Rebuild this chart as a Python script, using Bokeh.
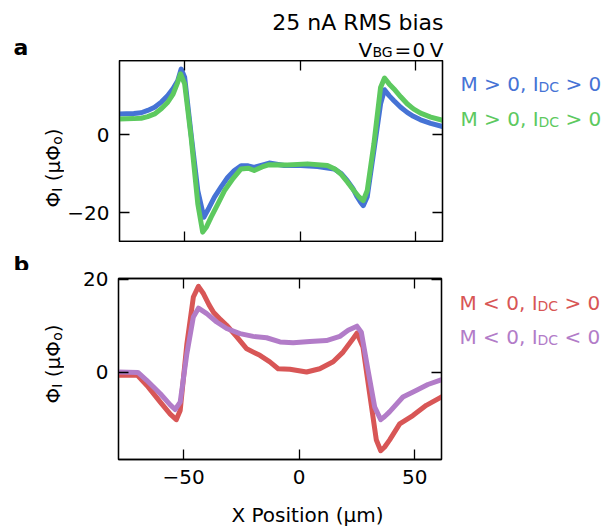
import math
from bokeh.plotting import figure
from bokeh.models import Range1d, LinearAxis, FixedTicker, Label, CustomJSTickFormatter
from bokeh.layouts import column, row
from bokeh.embed import file_html
from bokeh.resources import INLINE

# ---------------- data ----------------
x_blue = [-78.5, -72.0, -68.8, -66.0, -63.0, -60.0, -57.3, -55.0, -53.0, -51.5, -50.0, -47.2,
          -44.3, -41.7, -39.5, -37.1, -34.0, -31.4, -28.5, -25.6, -22.5, -19.9, -16.5, -13.4,
          -6.9, 0.3, 7.5, 14.7, 17.8, 20.4, 22.8, 24.7, 26.2, 27.3, 29.0, 31.9, 34.8, 36.5,
          38.5, 40.6, 43.5, 46.3, 49.0, 52.1, 56.5, 62.0]
y_blue = [5.3, 5.4, 5.6, 6.2, 7.0, 8.4, 10.0, 11.8, 13.8, 16.8, 14.7, 0.0,
          -14.4, -21.2, -18.8, -16.0, -13.2, -11.0, -9.2, -8.0, -8.0, -8.4, -7.8, -7.3,
          -7.9, -7.9, -8.2, -8.8, -10.0, -11.8, -13.8, -16.0, -17.4, -18.2, -16.0, -4.1, 7.9, 11.5,
          10.0, 8.7, 7.0, 5.7, 4.7, 3.8, 2.9, 2.0]

x_green = [-78.5, -72.0, -68.8, -66.0, -63.0, -60.0, -57.3, -55.0, -53.0, -51.8, -50.0, -47.2,
           -44.3, -42.2, -40.5, -38.6, -35.5, -32.8, -29.0, -25.6, -22.5, -19.9, -16.5, -13.4,
           -5.5, 3.2, 11.8, 15.0, 17.6, 20.5, 23.3, 25.5, 27.3, 29.0, 31.9, 34.8, 36.5,
           38.5, 40.6, 43.5, 46.3, 49.0, 52.1, 56.5, 62.0]
y_green = [4.0, 4.1, 4.2, 4.6, 5.3, 6.7, 8.3, 10.4, 13.4, 15.6, 13.0, -0.7,
           -17.8, -25.0, -23.6, -21.2, -17.6, -14.4, -11.2, -8.8, -8.6, -9.2, -8.3, -7.7,
           -7.8, -7.5, -7.9, -8.8, -10.1, -12.2, -14.4, -16.0, -16.9, -14.4, -2.4, 12.1, 14.5,
           13.0, 11.7, 9.7, 7.9, 6.6, 5.5, 4.5, 3.6]

x_red = [-78.5, -70.0, -65.9, -60.1, -55.8, -53.2, -51.5, -48.6, -45.8, -43.6, -41.4, -39.0,
         -37.1, -34.0, -31.4, -27.0, -22.7, -17.0, -12.7, -9.1, -4.0, 3.2, 8.9, 14.7, 19.0,
         23.3, 25.0, 27.6, 30.5, 33.4, 35.3, 37.0, 39.1, 43.5, 49.2, 55.0, 62.0]
y_red = [-0.7, -0.7, -2.9, -6.5, -9.1, -10.3, -8.3, 6.1, 16.2, 18.5, 16.9, 14.5,
         12.9, 11.3, 10.1, 7.6, 5.0, 3.6, 2.2, 0.7, 0.6, 0.0, 0.7, 2.2, 4.3,
         7.2, 8.4, 5.4, -4.7, -14.7, -17.0, -16.2, -14.7, -11.2, -9.4, -7.2, -5.3]

x_purple = [-78.5, -69.8, -66.0, -60.1, -55.8, -53.7, -51.5, -48.6, -45.8, -43.6, -40.0, -35.7,
            -31.4, -25.6, -19.9, -14.1, -8.3, -2.6, 4.6, 11.8, 17.6, 21.2, 25.0, 26.9,
            29.8, 32.7, 35.3, 37.0, 39.1, 44.9, 50.6, 55.7, 62.0]
y_purple = [0.0, -0.1, -1.8, -4.7, -7.1, -8.1, -6.5, 4.0, 11.9, 13.8, 12.6, 10.8,
            9.4, 8.3, 7.7, 7.4, 6.5, 6.3, 6.6, 6.8, 7.7, 9.0, 9.9, 8.6,
            0.4, -7.6, -10.3, -9.6, -8.6, -5.4, -4.0, -2.7, -1.6]

x_ticks = [-50, 0, 50]
y_ticks_a = [-20, 0]
y_ticks_b = [0, 20]

legend_a = [("M > 0, I", "DC", "> 0"), ("M > 0, I", "DC", "> 0")]
legend_b = [("M < 0, I", "DC", "> 0"), ("M < 0, I", "DC", "< 0")]

# ---------------- styling / layout ----------------
C_BLUE, C_GREEN, C_RED, C_PURPLE = "#4673D5", "#5DC95F", "#D85656", "#B27CC8"
FONT = "DejaVu Sans"
FS = 20
X_START, X_END = -78.2, 61.6
FRAME_W, FRAME_H = 323, 181
YL_W = 64            # width of the y-label strip
BL, BR = 54, 10      # main figure borders
LEG_X0 = YL_W + BL + FRAME_W + BR
LEG_W = 602 - LEG_X0

TOP_H = 60           # title strip (page y 0..60)
A_BOT = 1            # panel a: frame 60..241
MID_H = 28           # strip holding "b" (242..270)
B_TOP, B_BOT = 8, 32 # panel b: frame 278..459
ROW_A_Y = TOP_H
ROW_A_H = FRAME_H + A_BOT
MID_Y = ROW_A_Y + ROW_A_H
ROW_B_Y = MID_Y + MID_H + B_TOP          # page y of panel b frame top
BOT_Y = ROW_B_Y + FRAME_H + B_BOT
BOT_H = 526 - BOT_Y

# approximate DejaVu Sans advance widths (em)
W = {" ": 0.318, "(": 0.390, ")": 0.390, ",": 0.318, "<": 0.838, ">": 0.838, "=": 0.838,
     "A": 0.684, "B": 0.686, "C": 0.698, "D": 0.770, "G": 0.775, "I": 0.295, "M": 0.863,
     "V": 0.684, "X": 0.686, "o": 0.612, "\u03a6": 0.790, "\u03bc": 0.640}
SP = W[" "]


def tw(s, size):
    return sum(W.get(c, 0.636) for c in s) * size


minus_fmt = CustomJSTickFormatter(code="return tick < 0 ? '\u2212' + Math.abs(tick) : String(tick);")
blank_fmt = CustomJSTickFormatter(code="return '';")


def text_fig(x0, y0, w, h, bottom=0, topb=0):
    """A bare figure whose frame covers page region (x0, y0, w, h); data units = page pixels.
    'topb'/'bottom' add empty borders matching the plot beside it."""
    p = figure(width=w, height=h + bottom + topb, x_range=Range1d(x0, x0 + w),
               y_range=Range1d(y0 + h, y0),
               output_backend="svg", toolbar_location=None,
               x_axis_location=None, y_axis_location=None,
               min_border=0, min_border_left=0, min_border_right=0,
               min_border_top=topb, min_border_bottom=bottom)
    p.grid.visible = False
    p.outline_line_color = None
    p.background_fill_color = "white"
    p.border_fill_color = "white"
    return p


def put(p, px, py, text, size=FS, color="black", align="left", bold=False, angle=0.0):
    p.add_layout(Label(x=px, y=py, text=text, text_font=FONT,
                       text_font_size=f"{size}px", text_color=color,
                       text_align=align, text_baseline="alphabetic",
                       text_font_style="bold" if bold else "normal",
                       angle=angle))


def add_axis(p, loc, ticks, labels):
    ax = LinearAxis(ticker=FixedTicker(ticks=ticks, minor_ticks=[]),
                    major_tick_in=10, major_tick_out=0, minor_tick_in=0, minor_tick_out=0,
                    axis_line_color="black", axis_line_width=1.3,
                    major_tick_line_color="black", major_tick_line_width=1.3)
    if labels:
        ax.formatter = minus_fmt
        ax.major_label_text_font = FONT
        ax.major_label_text_font_size = f"{FS}px"
        ax.major_label_text_color = "black"
        ax.major_label_standoff = 10
    else:
        ax.formatter = blank_fmt
        ax.major_label_text_font_size = "1px"
        ax.major_label_standoff = 0
    p.add_layout(ax, loc)


def make_fig(y_start, y_end, top, bottom, yticks, xlabels):
    p = figure(frame_width=FRAME_W, frame_height=FRAME_H,
               x_range=Range1d(X_START, X_END), y_range=Range1d(y_start, y_end),
               output_backend="svg", toolbar_location=None,
               x_axis_location=None, y_axis_location=None,
               min_border_left=BL, min_border_right=BR,
               min_border_top=top, min_border_bottom=bottom)
    p.grid.visible = False
    p.outline_line_color = "black"
    p.outline_line_width = 1.3
    p.background_fill_color = "white"
    p.border_fill_color = "white"
    add_axis(p, "left", yticks, True)
    add_axis(p, "right", yticks, False)
    add_axis(p, "above", x_ticks, False)
    add_axis(p, "below", x_ticks, xlabels)
    return p


def legend_row(p, px, py, parts, color, size=20, sub=14):
    a, b, c = parts
    put(p, px, py, a, size, color)
    x2 = px + tw(a, size)
    put(p, x2, py + 3, b, sub, color)
    put(p, x2 + tw(b, sub) + SP * size, py, c, size, color)


def ylabel(p, px, py_start):
    parts = [("\u03a6", False), ("I", True), (" ", None), ("(\u03bc\u03a6", False),
             ("o", True), (")", False)]
    y = py_start
    for t, is_sub in parts:
        size = 14 if is_sub else FS
        if is_sub is not None:
            put(p, px + (4 if is_sub else 0), round(y, 1), t, size, "black", angle=math.pi / 2)
        y -= tw(t, size)


# ---------------- title strip ----------------
top = text_fig(0, 0, 602, TOP_H)
put(top, 13, 47, "a", 22, bold=True)
put(top, 443, 22, "25 nA RMS bias", 22, align="right")
# V_BG = 0 V, pieces placed as in the reference
put(top, 358, 49, "V", 20)
put(top, 372, 51, "BG", 14)
put(top, 394, 49, "=", 20)
put(top, 412, 49, "0", 20)
put(top, 443, 49, "V", 20, align="right")

# ---------------- panel a ----------------
p1 = make_fig(-27.4, 19.0, 0, A_BOT, y_ticks_a, False)
p1.line(x_blue, y_blue, line_color=C_BLUE, line_width=5, line_join="round")
p1.line(x_green, y_green, line_color=C_GREEN, line_width=5, line_join="round")
yl_a = text_fig(0, ROW_A_Y, YL_W, FRAME_H, A_BOT)
ylabel(yl_a, 52, 207)
leg_a = text_fig(LEG_X0, ROW_A_Y, LEG_W, FRAME_H, A_BOT)
legend_row(leg_a, 459, 83, legend_a[0], C_BLUE)
legend_row(leg_a, 459, 118, legend_a[1], C_GREEN)

# ---------------- "b" strip ----------------
mid = text_fig(0, MID_Y, 602, MID_H)
put(mid, 13, 264, "b", 22, bold=True)

# ---------------- panel b ----------------
p2 = make_fig(-18.9, 20.2, B_TOP, B_BOT, y_ticks_b, True)
p2.line(x_red, y_red, line_color=C_RED, line_width=5, line_join="round")
p2.line(x_purple, y_purple, line_color=C_PURPLE, line_width=5, line_join="round")
yl_b = text_fig(0, ROW_B_Y, YL_W, FRAME_H, B_BOT, B_TOP)
ylabel(yl_b, 52, 403)
leg_b = text_fig(LEG_X0, ROW_B_Y, LEG_W, FRAME_H, B_BOT, B_TOP)
legend_row(leg_b, 459, 302, legend_b[0], C_RED)
legend_row(leg_b, 459, 336, legend_b[1], C_PURPLE)

# ---------------- x label strip ----------------
bot = text_fig(0, BOT_Y, 602, BOT_H)
put(bot, 307, 514, "X Position (\u03bcm)", FS, align="center")

layout = column(top,
                row(yl_a, p1, leg_a, spacing=0),
                mid,
                row(yl_b, p2, leg_b, spacing=0),
                bot, spacing=0)
open("out.html", "w").write(file_html(layout, INLINE))
